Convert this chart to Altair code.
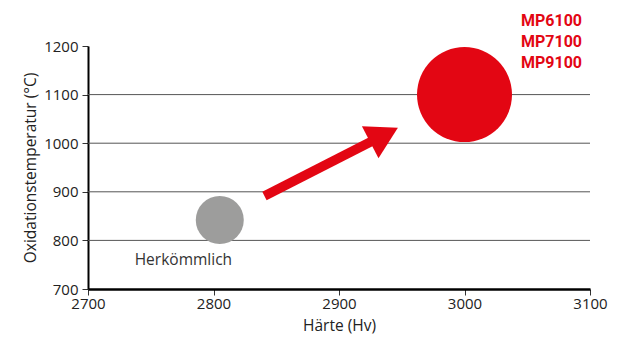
import altair as alt
import pandas as pd

# --- data ---
names = ["Herkömmlich", "MP"]
hardness = [2805, 3000]
temperature = [842, 1100]

label_texts = ["Herkömmlich", "MP6100\nMP7100\nMP9100"]
label_x = [2776, 3045]
label_y = [749, 1242]

grid_values = [800, 900, 1000, 1100]
x_ticks = [2700, 2800, 2900, 3000, 3100]
y_ticks = [700, 800, 900, 1000, 1100, 1200]

arrow_x = [2840.6, 2935.9]
arrow_y = [891.4, 1016.9]

RED = "#e30613"
GRAY = "#9d9d9c"
FONT = "Open Sans"

pts = pd.DataFrame({"name": names, "x": hardness, "y": temperature})
grid_df = pd.DataFrame({"y": grid_values})
arrow_df = pd.DataFrame({"x": [arrow_x[0]], "x2": [arrow_x[1]], "y": [arrow_y[0]], "y2": [arrow_y[1]]})
head_df = pd.DataFrame({"x": [arrow_x[1]], "y": [arrow_y[1]]})
lab1 = pd.DataFrame({"t": [label_texts[0]], "x": [label_x[0]], "y": [label_y[0]]})
lab2 = pd.DataFrame({"t": [label_texts[1]], "x": [label_x[1]], "y": [label_y[1]]})

xs = alt.Scale(domain=[2700, 3100], nice=False, zero=False)
ys = alt.Scale(domain=[700, 1200], nice=False, zero=False)

x_axis = alt.Axis(
    values=x_ticks, grid=False, title="Härte (Hv)", format="d", labelFlush=False,
    domainColor="#000", domainWidth=2.5, tickColor="#333", tickSize=6, tickWidth=1,
    labelFont=FONT, labelFontSize=15, labelColor="#222", labelPadding=1,
    titleFont=FONT, titleFontSize=15.5, titleFontWeight="normal", titleColor="#222", titlePadding=7,
)
y_axis = alt.Axis(
    values=y_ticks, grid=False, title="Oxidationstemperatur (°C)", format="d", labelFlush=False,
    domainColor="#000", domainWidth=2, tickColor="#333", tickSize=6, tickWidth=1,
    labelFont=FONT, labelFontSize=15, labelColor="#222", labelPadding=4,
    titleFont=FONT, titleFontSize=15.5, titleFontWeight="normal", titleColor="#222", titlePadding=5,
)

grid = alt.Chart(grid_df).mark_rule(color="#555", strokeWidth=1).encode(
    y=alt.Y("y:Q", scale=ys, axis=y_axis)
)

shaft = alt.Chart(arrow_df).mark_rule(color=RED, strokeWidth=9.5, strokeCap="butt").encode(
    x=alt.X("x:Q", scale=xs, axis=x_axis), x2="x2:Q",
    y=alt.Y("y:Q", scale=ys), y2="y2:Q",
)

head = alt.Chart(head_df).mark_point(
    shape="triangle-up", filled=True, color=RED, opacity=1, size=1296, angle=62.6, strokeWidth=0
).encode(x=alt.X("x:Q", scale=xs), y=alt.Y("y:Q", scale=ys))

circles = alt.Chart(pts).mark_circle(opacity=1).encode(
    x=alt.X("x:Q", scale=xs),
    y=alt.Y("y:Q", scale=ys),
    color=alt.Color("name:N", scale=alt.Scale(domain=names, range=[GRAY, RED]), legend=None),
    size=alt.Size("name:N", scale=alt.Scale(domain=names, range=[2304, 9025]), legend=None),
)

t1 = alt.Chart(lab1).mark_text(
    font=FONT, fontSize=15.5, color="#333", align="center", baseline="alphabetic"
).encode(x=alt.X("x:Q", scale=xs), y=alt.Y("y:Q", scale=ys), text="t:N")

t2 = alt.Chart(lab2).mark_text(
    font="Roboto", fontSize=16, fontWeight="bold", color=RED, align="left",
    baseline="alphabetic", lineBreak="\n", lineHeight=21.3
).encode(x=alt.X("x:Q", scale=xs), y=alt.Y("y:Q", scale=ys), text="t:N")

chart = alt.layer(grid, shaft, head, circles, t1, t2).properties(
    width=502, height=243,
    padding={"left": 88, "top": 46, "right": 30, "bottom": 55},
    autosize=alt.AutoSizeParams(type="none"),
    background="white",
).configure_view(stroke=None)

chart.save("out.html", embed_options={"renderer": "svg", "actions": False})
